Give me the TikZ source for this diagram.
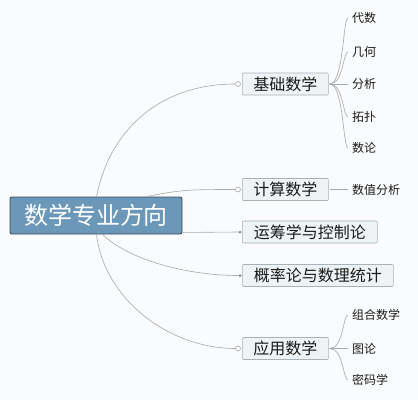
\documentclass[tikz,border=0pt]{standalone}
\usepackage{fontspec}
\newfontfamily\cjk{Noto Sans CJK SC}
\usetikzlibrary{calc}
\definecolor{bgc}{HTML}{FAFBFC}
\definecolor{rootfill}{HTML}{6B97B8}
\definecolor{rootdraw}{HTML}{3C4D5E}
\definecolor{brfill}{HTML}{EEF3F6}
\definecolor{brdraw}{HTML}{A9B1B9}
\definecolor{linec}{HTML}{A8A8A8}
\definecolor{txt}{HTML}{1A1A1A}
\tikzset{
  rootbox/.style={draw=rootdraw, line width=0.9pt, fill=rootfill, rounded corners=2pt,
    text=white, font=\cjk\fontsize{24}{24}\selectfont, minimum width=172pt, minimum height=37pt, inner sep=0pt},
  brbox/.style={draw=brdraw, line width=0.6pt, fill=brfill, rounded corners=1pt,
    text=txt, font=\cjk\fontsize{16}{16}\selectfont, minimum height=22pt, inner xsep=11pt, inner ysep=0pt, anchor=west},
  leaf/.style={text=txt, font=\cjk\fontsize{12}{12}\selectfont, inner xsep=4pt, inner ysep=1pt, anchor=west},
  conn/.style={draw=linec, line width=0.6pt},
  opendot/.style={circle, draw=linec, fill=bgc, line width=0.6pt, minimum size=5pt, inner sep=0pt},
  filldot/.style={circle, fill=linec!80!black, minimum size=3pt, inner sep=0pt},
}
\begin{document}
\begin{tikzpicture}[x=1pt, y=-1pt]
\fill[bgc] (0,0) rectangle (418,400);
\useasboundingbox (0,0) rectangle (418,400);

% root
\node[rootbox] (root) at (96,215.5) {数学专业方向};

% branches
\node[brbox, minimum width=86pt] (b1) at (242,84) {基础数学};
\node[brbox, minimum width=86pt] (b2) at (242,189.5) {计算数学};
\node[brbox, minimum width=135pt] (b3) at (242,232) {运筹学与控制论};
\node[brbox, minimum width=151pt] (b4) at (242,275.5) {概率论与数理统计};
\node[brbox, minimum width=86pt] (b5) at (242,348.5) {应用数学};

% leaves
\node[leaf] (l1) at (348,18) {代数};
\node[leaf] (l2) at (348,52) {几何};
\node[leaf] (l3) at (348,84) {分析};
\node[leaf] (l4) at (348,117) {拓扑};
\node[leaf] (l5) at (348,148) {数论};
\node[leaf] (l6) at (348,189.5) {数值分析};
\node[leaf] (l7) at (348,315) {组合数学};
\node[leaf] (l8) at (348,348.5) {图论};
\node[leaf] (l9) at (348,380) {密码学};

% markers at branch inputs
\node[opendot] (d1) at ($(b1.west)+(-4,0)$) {};
\node[opendot] (d2) at ($(b2.west)+(-4,0)$) {};
\node[filldot] (d3) at ($(b3.west)+(-2,0)$) {};
\node[filldot] (d4) at ($(b4.west)+(-2,0)$) {};
\node[opendot] (d5) at ($(b5.west)+(-4,0)$) {};

% root connectors
\draw[conn] ($(root.north west)+(87,0)$) .. controls +(13,-67) and +(-75,0) .. (d1.west);
\draw[conn] ($(root.north west)+(137,0)$) .. controls +(35,-7) and +(-45,0) .. (d2.west);
\draw[conn] ($(root.south east)+(0,-2)$) -- (d3.west);
\draw[conn] ($(root.south west)+(93,0)$) .. controls +(27,26) and +(-50,0) .. (d4.west);
\draw[conn] ($(root.south west)+(87,0)$) .. controls +(8,66) and +(-65,0) .. (d5.west);

% leaf connectors
\foreach \l in {l1,l2,l4,l5}{
  \draw[conn] ($(b1.east)+(1,0)$) .. controls +(14,0) and +(-5,0) .. (\l.west);
}
\draw[conn] ($(b1.east)+(1,0)$) -- (l3.west);
\draw[conn] ($(b2.east)+(1,0)$) -- (l6.west);
\foreach \l in {l7,l9}{
  \draw[conn] ($(b5.east)+(1,0)$) .. controls +(14,0) and +(-5,0) .. (\l.west);
}
\draw[conn] ($(b5.east)+(1,0)$) -- (l8.west);
\end{tikzpicture}
\end{document}
